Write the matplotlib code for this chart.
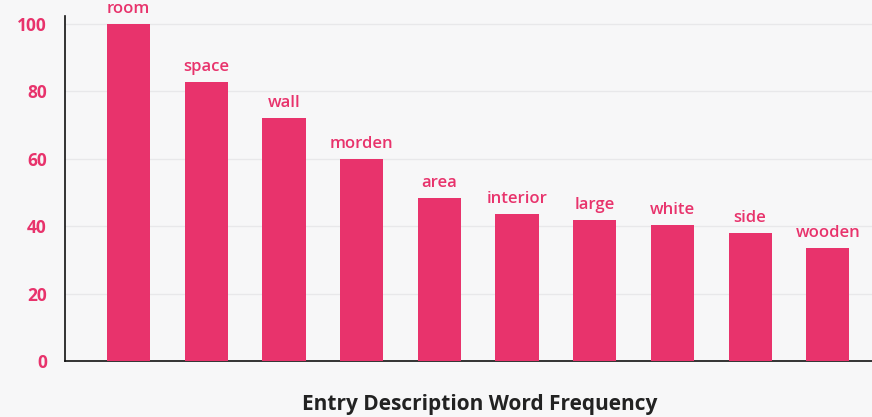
import matplotlib
matplotlib.use("Agg")
import matplotlib.pyplot as plt

words = ["room", "space", "wall", "morden", "area", "interior", "large", "white", "side", "wooden"]
counts = [100, 82.8, 72.1, 60, 48.4, 43.6, 41.8, 40.4, 38, 33.5]
yticks = [0, 20, 40, 60, 80, 100]
title = "Entry Description Word Frequency"

pink = "#E8336C"
bg = "#F7F7F8"

plt.rcParams['font.family'] = ['Open Sans', 'DejaVu Sans']

fig = plt.figure(figsize=(8.72, 4.17), dpi=100, facecolor=bg)
ax = fig.add_axes([65/872, 1-361/417, 1-65/872, (361-16)/417])
ax.set_facecolor(bg)

x = list(range(len(words)))
bars = ax.bar(x, counts, width=0.555, color=pink, zorder=3)
for xi, c, w in zip(x, counts, words):
    ax.annotate(w, (xi, c), xytext=(0, 5), textcoords="offset points",
                ha="center", va="bottom", color=pink, fontsize=12, fontweight="semibold")

ax.set_xlim(-0.82, 9.57)
ax.set_ylim(0, 102.4)
ax.set_yticks(yticks)
ax.set_yticklabels([str(t) for t in yticks], color=pink, fontsize=12.5, fontweight="bold")
ax.set_xticks([])
ax.tick_params(axis="y", length=0, pad=13)
ax.grid(axis="y", color="#E8E8EA", linewidth=1, zorder=0)
for s in ["top", "right"]:
    ax.spines[s].set_visible(False)
ax.spines["left"].set_color("#111111")
ax.spines["bottom"].set_color("#111111")
ax.spines["left"].set_linewidth(1.2)
ax.spines["bottom"].set_linewidth(1.2)

fig.text(480/872, 1-410/417, title, ha="center", va="baseline",
         fontsize=15, fontweight="bold", color="#222222")

fig.savefig("out.png", dpi=100, facecolor=bg)
